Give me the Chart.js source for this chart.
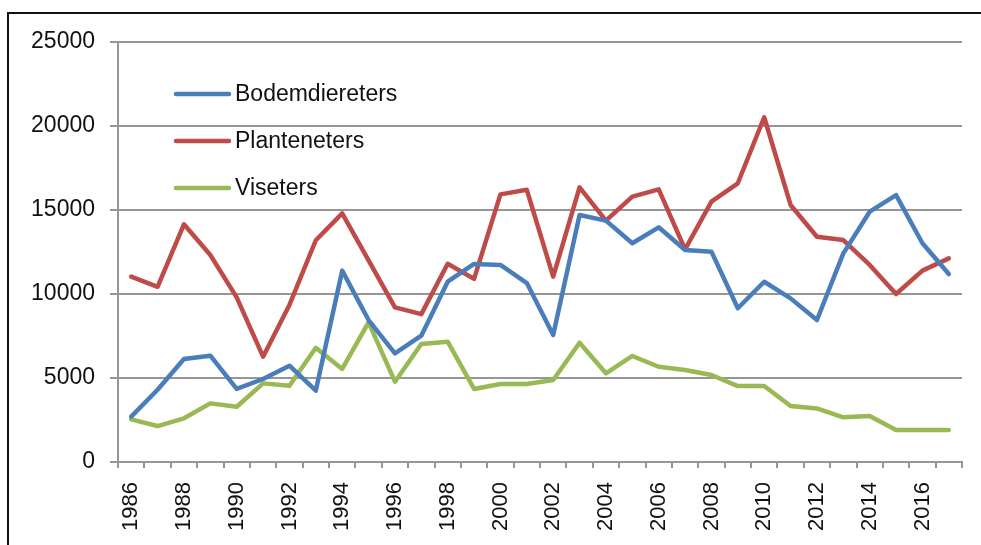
<!DOCTYPE html>
<html>
<head>
<meta charset="utf-8">
<title>Bodemdiereters, Planteneters, Viseters</title>
<script src="https://cdn.jsdelivr.net/npm/chart.js@4/dist/chart.umd.min.js"></script>
<style>
    html, body { margin: 0; padding: 0; background: #fff; }
    #wrap { width: 981px; height: 545px; position: relative; }
</style>
</head>
<body>
<div id="wrap"><canvas id="chart" width="981" height="545"></canvas></div>
<script>
const years = ['1986', '1987', '1988', '1989', '1990', '1991', '1992', '1993', '1994', '1995', '1996',
    '1997', '1998', '1999', '2000', '2001', '2002', '2003', '2004', '2005', '2006', '2007',
    '2008', '2009', '2010', '2011', '2012', '2013', '2014', '2015', '2016', '2017'];

const bodemdiereters = [2700, 4300, 6130, 6330, 4350, 4940, 5730, 4250, 11390, 8450, 6470,
    7520, 10730, 11790, 11730, 10650, 7560, 14700, 14370, 13020, 13970, 12620,
    12520, 9150, 10730, 9740, 8450, 12420, 14900, 15890, 13020, 11190];

const planteneters = [11030, 10430, 14150, 12320, 9800, 6270, 9350, 13200, 14800, 12000, 9200,
    8800, 11800, 10900, 15930, 16200, 11030, 16350, 14370, 15800, 16230, 12660,
    15500, 16590, 20520, 15300, 13410, 13210, 11730, 10000, 11390, 12120];

const viseters = [2540, 2140, 2600, 3490, 3290, 4680, 4540, 6800, 5540, 8310, 4780,
    7020, 7160, 4350, 4640, 4640, 4880, 7100, 5280, 6310, 5670, 5480,
    5180, 4520, 4520, 3330, 3190, 2660, 2740, 1900, 1900, 1900];

const yTicks = [0, 5000, 10000, 15000, 20000, 25000];

const FONT = "'Liberation Sans', Arial, sans-serif";
const gridColor = '#969696';

// frame round the chart, only top and left edge are in the picture
const framePlugin = {
    id: 'frame',
    beforeDraw(chart) {
        const ctx = chart.ctx;
        ctx.save();
        ctx.fillStyle = '#fff';
        ctx.fillRect(0, 0, chart.width, chart.height);
        ctx.strokeStyle = '#111';
        ctx.lineWidth = 2;
        ctx.beginPath();
        ctx.moveTo(8, chart.height + 5);
        ctx.lineTo(8, 13);
        ctx.lineTo(chart.width + 5, 13);
        ctx.stroke();
        ctx.restore();
    }
};

// legend sits inside the plot, upper left
const insideLegend = {
    id: 'insideLegend',
    afterDatasetsDraw(chart) {
        const ctx = chart.ctx;
        ctx.save();
        ctx.font = '23px ' + FONT;
        ctx.textBaseline = 'middle';
        ctx.textAlign = 'left';
        chart.data.datasets.forEach((ds, i) => {
            const y = 94 + i * 47;
            ctx.strokeStyle = ds.borderColor;
            ctx.lineWidth = 4.5;
            ctx.lineCap = 'round';
            ctx.beginPath();
            ctx.moveTo(176, y);
            ctx.lineTo(229, y);
            ctx.stroke();
            ctx.fillStyle = '#111';
            ctx.fillText(ds.label, 235, y + 1);
        });
        ctx.restore();
    }
};

new Chart(document.getElementById('chart'), {
    type: 'line',
    data: {
        labels: years,
        datasets: [
            { label: 'Bodemdiereters', data: bodemdiereters, borderColor: '#4a7ebb' },
            { label: 'Planteneters', data: planteneters, borderColor: '#be4b48' },
            { label: 'Viseters', data: viseters, borderColor: '#98b954' }
        ]
    },
    options: {
        responsive: false,
        animation: false,
        layout: { padding: { left: 9, top: 42, right: 19, bottom: 0 } },
        elements: {
            line: { borderWidth: 4.5, tension: 0, borderJoinStyle: 'round', borderCapStyle: 'round', fill: false },
            point: { radius: 0, hoverRadius: 0 }
        },
        plugins: {
            legend: { display: false },
            tooltip: { enabled: false }
        },
        scales: {
            x: {
                type: 'category',
                offset: true,
                afterFit(scale) {
                    scale.height = 83;
                    scale.paddingLeft = 0;
                    scale.paddingRight = 0;
                },
                grid: {
                    offset: true,
                    drawOnChartArea: false,
                    drawTicks: true,
                    tickLength: 6,
                    color: gridColor,
                    lineWidth: 2
                },
                border: { display: true, color: gridColor, width: 2 },
                ticks: {
                    autoSkip: false,
                    maxRotation: 90,
                    minRotation: 90,
                    padding: 14,
                    color: '#111',
                    font: { family: FONT, size: 22 },
                    callback: function (value, index) {
                        return index % 2 === 0 ? this.getLabelForValue(value) : '';
                    }
                }
            },
            y: {
                min: 0,
                max: 25000,
                afterFit(scale) {
                    scale.width = 109;
                    scale.paddingTop = 0;
                    scale.paddingBottom = 0;
                },
                afterBuildTicks(scale) { scale.ticks = yTicks.map(v => ({ value: v })); },
                grid: {
                    color: gridColor,
                    lineWidth: 2,
                    tickLength: 8
                },
                border: { display: true, color: gridColor, width: 2 },
                ticks: {
                    padding: 15,
                    color: '#111',
                    font: { family: FONT, size: 23 },
                    callback: v => String(v)
                }
            }
        }
    },
    plugins: [framePlugin, insideLegend]
});
</script>
</body>
</html>
